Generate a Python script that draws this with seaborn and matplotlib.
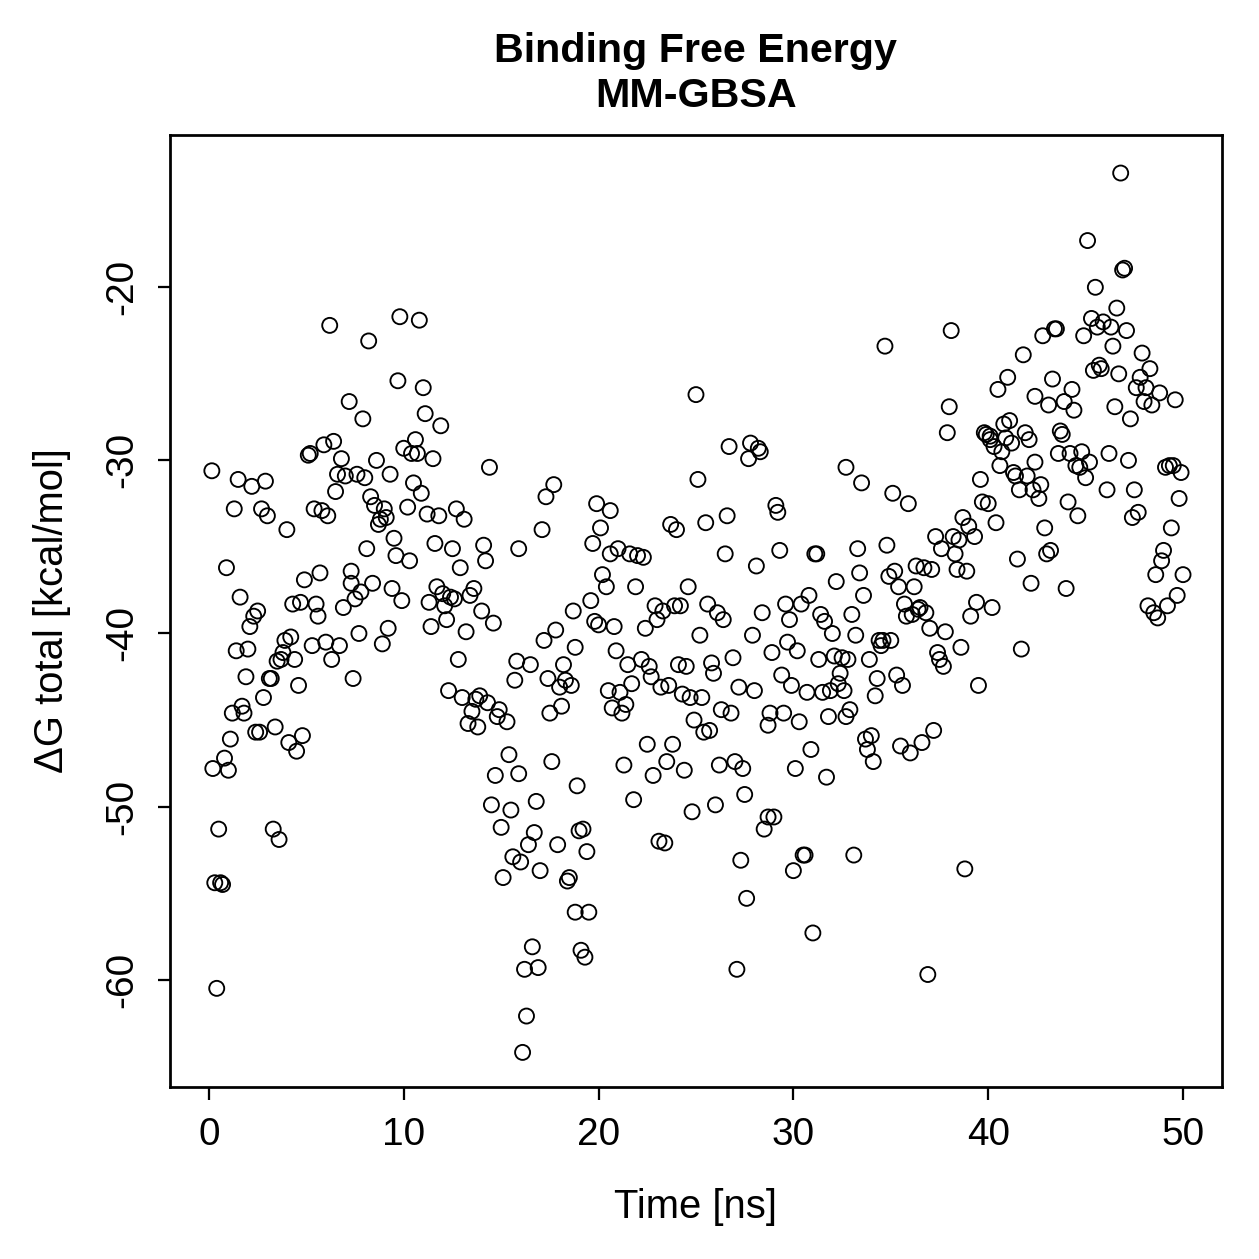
import matplotlib
matplotlib.use("Agg")
import matplotlib.pyplot as plt
import seaborn as sns
import pandas as pd

# time [ns] and total binding free energy [kcal/mol]
time_ns = [
    0.15, 0.2, 0.3, 0.4, 0.5, 0.6, 0.7, 0.8, 0.9, 1.0, 1.1, 1.2, 1.3, 1.4, 1.5, 1.6, 1.7, 1.8, 1.9, 2.0,
    2.1, 2.2, 2.3, 2.4, 2.5, 2.6, 2.7, 2.8, 2.9, 3.0, 3.1, 3.2, 3.3, 3.4, 3.5, 3.6, 3.7, 3.8, 3.9, 4.0,
    4.1, 4.2, 4.3, 4.4, 4.5, 4.6, 4.7, 4.8, 4.9, 5.1, 5.2, 5.3, 5.4, 5.5, 5.6, 5.7, 5.8, 5.9, 6.0, 6.1,
    6.2, 6.3, 6.4, 6.5, 6.6, 6.7, 6.8, 6.9, 7.0, 7.2, 7.3, 7.3, 7.4, 7.5, 7.6, 7.7, 7.8, 7.9, 8.0, 8.1,
    8.2, 8.3, 8.4, 8.5, 8.6, 8.7, 8.8, 8.9, 9.0, 9.1, 9.2, 9.3, 9.4, 9.5, 9.6, 9.7, 9.8, 9.9, 10.0, 10.2,
    10.3, 10.4, 10.5, 10.6, 10.7, 10.8, 10.9, 11.0, 11.1, 11.2, 11.3, 11.4, 11.5, 11.6, 11.7, 11.8, 11.9, 12.0, 12.1, 12.2,
    12.3, 12.4, 12.5, 12.6, 12.7, 12.8, 12.9, 13.0, 13.1, 13.2, 13.3, 13.4, 13.5, 13.6, 13.7, 13.8, 13.9, 14.0, 14.1, 14.2,
    14.3, 14.4, 14.5, 14.6, 14.7, 14.8, 14.9, 15.0, 15.1, 15.3, 15.4, 15.5, 15.6, 15.7, 15.8, 15.9, 15.9, 16.0, 16.1, 16.2,
    16.3, 16.4, 16.5, 16.6, 16.7, 16.8, 16.9, 17.0, 17.1, 17.2, 17.3, 17.4, 17.5, 17.6, 17.7, 17.8, 17.9, 18.0, 18.1, 18.2,
    18.3, 18.4, 18.5, 18.6, 18.7, 18.8, 18.8, 18.9, 19.0, 19.1, 19.2, 19.3, 19.4, 19.5, 19.6, 19.7, 19.8, 19.9, 20.0, 20.1,
    20.2, 20.4, 20.5, 20.6, 20.6, 20.7, 20.8, 20.9, 21.0, 21.1, 21.2, 21.3, 21.4, 21.5, 21.6, 21.7, 21.8, 21.9, 22.0, 22.2,
    22.3, 22.4, 22.5, 22.6, 22.7, 22.8, 22.9, 23.0, 23.1, 23.2, 23.3, 23.4, 23.5, 23.6, 23.7, 23.8, 23.9, 24.0, 24.1, 24.2,
    24.3, 24.4, 24.5, 24.6, 24.7, 24.8, 24.9, 25.0, 25.1, 25.2, 25.3, 25.4, 25.5, 25.6, 25.7, 25.8, 25.9, 26.0, 26.1, 26.2,
    26.3, 26.4, 26.5, 26.6, 26.7, 26.8, 26.9, 27.0, 27.1, 27.2, 27.3, 27.4, 27.5, 27.6, 27.7, 27.8, 27.9, 28.0, 28.1, 28.2,
    28.3, 28.4, 28.5, 28.7, 28.7, 28.8, 28.9, 29.0, 29.1, 29.2, 29.3, 29.4, 29.5, 29.6, 29.7, 29.8, 29.9, 30.0, 30.1, 30.2,
    30.3, 30.4, 30.5, 30.6, 30.7, 30.8, 30.9, 31.0, 31.1, 31.2, 31.3, 31.4, 31.5, 31.6, 31.7, 31.8, 31.9, 32.0, 32.1, 32.2,
    32.3, 32.4, 32.5, 32.6, 32.7, 32.7, 32.8, 32.9, 33.0, 33.1, 33.2, 33.3, 33.4, 33.5, 33.6, 33.7, 33.8, 33.9, 34.0, 34.1,
    34.2, 34.3, 34.4, 34.5, 34.6, 34.7, 34.8, 34.9, 35.0, 35.1, 35.2, 35.3, 35.4, 35.5, 35.6, 35.7, 35.8, 35.9, 36.0, 36.1,
    36.2, 36.3, 36.4, 36.5, 36.6, 36.7, 36.8, 36.9, 37.0, 37.1, 37.2, 37.3, 37.4, 37.5, 37.6, 37.7, 37.8, 37.9, 38.0, 38.1,
    38.2, 38.3, 38.4, 38.5, 38.6, 38.7, 38.8, 38.9, 39.0, 39.1, 39.3, 39.4, 39.5, 39.6, 39.7, 39.8, 39.9, 40.0, 40.1, 40.1,
    40.2, 40.3, 40.4, 40.5, 40.6, 40.7, 40.8, 40.9, 41.0, 41.1, 41.2, 41.3, 41.4, 41.5, 41.6, 41.7, 41.8, 41.9, 42.0, 42.1,
    42.2, 42.3, 42.4, 42.4, 42.6, 42.7, 42.8, 42.9, 43.0, 43.1, 43.2, 43.3, 43.4, 43.5, 43.6, 43.7, 43.8, 43.9, 44.0, 44.1,
    44.2, 44.3, 44.4, 44.5, 44.6, 44.7, 44.8, 44.9, 45.0, 45.1, 45.2, 45.3, 45.4, 45.5, 45.6, 45.7, 45.8, 45.9, 46.1, 46.2,
    46.3, 46.4, 46.5, 46.6, 46.7, 46.8, 46.9, 47.0, 47.1, 47.2, 47.3, 47.4, 47.5, 47.6, 47.7, 47.8, 47.9, 48.0, 48.1, 48.2,
    48.3, 48.4, 48.5, 48.6, 48.7, 48.8, 48.9, 49.0, 49.1, 49.2, 49.3, 49.4, 49.5, 49.6, 49.7, 49.8, 49.9, 50.0,
]

delta_g = [
    -30.6, -47.8, -54.4, -60.5, -51.3, -54.4, -54.5, -47.2, -36.2, -47.9, -46.1, -44.6, -32.8, -41.0, -31.1, -37.9, -44.2, -44.6, -42.5, -40.9,
    -39.6, -31.5, -39.0, -45.7, -38.7, -45.7, -32.8, -43.7, -31.2, -33.2, -42.6, -42.6, -51.3, -45.4, -41.6, -51.9, -41.5, -41.1, -40.4, -34.0,
    -46.3, -40.2, -38.3, -41.5, -46.8, -43.0, -38.2, -45.9, -36.9, -29.7, -29.6, -40.7, -32.8, -38.3, -39.0, -36.5, -32.9, -29.1, -40.5, -33.2,
    -22.2, -41.5, -28.9, -31.8, -30.8, -40.7, -29.9, -38.5, -30.9, -26.6, -37.1, -36.4, -42.6, -38.0, -30.8, -40.0, -37.6, -27.6, -31.0, -35.1,
    -23.1, -32.1, -37.1, -32.6, -30.0, -33.7, -33.4, -40.6, -32.8, -33.3, -39.7, -30.8, -37.4, -34.5, -35.5, -25.4, -21.7, -38.1, -29.3, -32.7,
    -35.8, -29.6, -31.3, -28.8, -29.6, -21.9, -31.9, -25.8, -27.3, -33.1, -38.2, -39.6, -29.9, -34.8, -37.3, -33.2, -28.0, -37.7, -38.4, -39.2,
    -43.3, -37.9, -35.1, -38.0, -32.8, -41.5, -36.2, -43.7, -33.4, -39.9, -45.2, -37.8, -44.5, -37.4, -43.8, -45.4, -43.6, -38.7, -34.9, -35.8,
    -44.0, -30.4, -49.9, -39.4, -48.2, -44.8, -44.4, -51.2, -54.1, -45.1, -47.0, -50.2, -52.9, -42.7, -41.6, -48.1, -35.1, -53.2, -64.2, -59.4,
    -62.1, -52.2, -41.8, -58.1, -51.5, -49.7, -59.3, -53.7, -34.0, -40.4, -32.1, -42.6, -44.6, -47.4, -31.4, -39.8, -52.2, -43.1, -44.2, -41.8,
    -42.7, -54.3, -54.1, -43.0, -38.7, -40.8, -56.1, -48.8, -51.4, -58.3, -51.3, -58.7, -52.6, -56.1, -38.1, -34.8, -39.3, -32.5, -39.5, -33.9,
    -36.6, -37.3, -43.3, -35.4, -32.9, -44.3, -39.6, -41.0, -35.1, -43.4, -44.6, -47.6, -44.1, -41.8, -35.4, -42.9, -49.6, -37.3, -35.5, -41.5,
    -35.6, -39.7, -46.4, -41.9, -42.5, -48.2, -38.4, -39.2, -52.0, -43.1, -38.7, -52.1, -47.4, -43.0, -33.7, -46.4, -38.4, -34.0, -41.8, -38.4,
    -43.5, -47.9, -41.9, -37.3, -43.7, -50.3, -45.0, -26.2, -31.1, -40.1, -43.7, -45.7, -33.6, -38.3, -45.6, -41.7, -42.3, -49.9, -38.8, -47.6,
    -44.4, -39.2, -35.4, -33.2, -29.2, -44.6, -41.4, -47.4, -59.4, -43.1, -53.1, -47.8, -49.3, -55.3, -29.9, -29.0, -40.1, -43.3, -36.1, -29.3,
    -29.5, -38.8, -51.3, -45.3, -50.6, -44.6, -41.1, -50.6, -32.6, -33.0, -35.2, -42.4, -44.6, -38.3, -40.5, -39.2, -43.0, -53.7, -47.8, -41.0,
    -45.1, -38.3, -52.8, -52.8, -43.4, -37.8, -46.7, -57.3, -35.4, -35.4, -41.5, -38.9, -43.4, -39.3, -48.3, -44.8, -43.3, -40.0, -41.3, -37.0,
    -42.9, -42.3, -41.4, -43.3, -44.8, -30.4, -41.5, -44.4, -38.9, -52.8, -40.1, -35.1, -36.5, -31.3, -37.8, -46.1, -46.7, -41.5, -45.9, -47.4,
    -43.6, -42.6, -40.4, -40.7, -40.4, -23.4, -34.9, -36.7, -40.4, -31.9, -36.4, -42.4, -37.3, -46.5, -43.0, -38.3, -39.0, -32.5, -46.9, -38.9,
    -37.3, -36.1, -38.6, -38.5, -46.3, -36.2, -38.8, -59.7, -39.7, -36.3, -45.6, -34.4, -41.1, -41.5, -35.1, -41.9, -39.9, -28.4, -26.9, -22.5,
    -34.4, -35.4, -36.3, -34.6, -40.8, -33.3, -53.6, -36.4, -33.8, -39.0, -34.4, -38.2, -43.0, -31.1, -32.4, -28.4, -28.5, -32.5, -28.6, -28.8,
    -38.5, -29.2, -33.6, -25.9, -30.3, -29.5, -27.9, -28.7, -25.2, -27.7, -29.0, -30.7, -30.9, -35.7, -31.7, -40.9, -23.9, -28.4, -30.9, -28.8,
    -37.1, -31.7, -30.1, -26.3, -32.2, -31.4, -22.8, -33.9, -35.4, -26.8, -35.2, -25.3, -22.4, -22.4, -29.6, -28.3, -28.5, -26.6, -37.4, -32.4,
    -29.6, -25.9, -27.1, -30.3, -33.2, -30.4, -29.5, -22.8, -31.0, -17.3, -30.1, -21.8, -24.8, -20.0, -22.3, -24.5, -24.7, -22.0, -31.7, -29.6,
    -22.3, -23.4, -26.9, -21.2, -25.0, -13.4, -19.0, -18.9, -22.5, -30.0, -27.6, -33.3, -31.7, -25.8, -33.0, -25.2, -23.8, -26.6, -25.8, -38.4,
    -24.7, -26.8, -38.8, -36.6, -39.1, -26.1, -35.8, -35.2, -30.4, -38.4, -30.3, -33.9, -30.3, -26.5, -37.8, -32.2, -30.7, -36.6,
]

df = pd.DataFrame({"time": time_ns, "dG": delta_g})

sns.set_style("ticks")
plt.rcParams["font.family"] = ["Liberation Sans", "DejaVu Sans"]
plt.rcParams["axes.unicode_minus"] = False
plt.rcParams["text.color"] = "black"
plt.rcParams["axes.labelcolor"] = "black"

fig = plt.figure(figsize=(1259 / 180, 1259 / 180), dpi=180)
ax = fig.add_axes([0.135, 0.1366, 0.8356, 0.7562])

sns.scatterplot(data=df, x="time", y="dG", ax=ax, marker="o", s=36,
                facecolor="none", edgecolor="black", linewidth=0.75)

ax.set_xlim(-2, 52)
ax.set_ylim(-66.2, -11.2)
ax.set_xticks([0, 10, 20, 30, 40, 50])
ax.set_yticks([-60, -50, -40, -30, -20])
ax.tick_params(axis="both", direction="out", length=5, width=0.9,
               labelsize=15.5, pad=7, color="black", labelcolor="black")
for lab in ax.get_yticklabels():
    lab.set_rotation(90)
    lab.set_va("center")

for sp in ax.spines.values():
    sp.set_visible(True)
    sp.set_linewidth(1.1)
    sp.set_color("black")

ax.set_xlabel("Time [ns]", fontsize=16, labelpad=14)
ax.set_ylabel("\u0394G total [kcal/mol]", fontsize=16, labelpad=13)
ax.set_title("Binding Free Energy\nMM-GBSA", fontsize=16.5, fontweight="bold",
             pad=11, linespacing=1.25)

fig.savefig("out.png", dpi=180)
